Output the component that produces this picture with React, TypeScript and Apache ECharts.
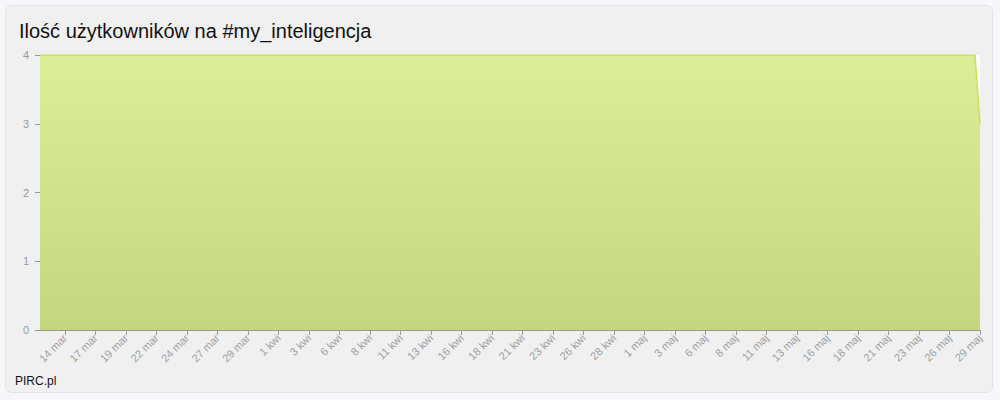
import React, { useEffect, useRef } from "react";
import * as echarts from "echarts";

const TITLE = "Ilość użytkowników na #my_inteligencja";
const CREDIT = "PIRC.pl";

// series: timestamps (UTC) and user counts
const pointTimes = ["2013-03-11T22:00:00Z", "2013-05-28T14:00:00Z", "2013-05-29T00:00:00Z"];
const pointValues = [4, 4, 3];

// x tick labels, evenly spaced from first to last tick date
const tickLabels = [
  "14 mar", "17 mar", "19 mar", "22 mar", "24 mar", "27 mar", "29 mar",
  "1 kwi", "3 kwi", "6 kwi", "8 kwi", "11 kwi", "13 kwi", "16 kwi", "18 kwi",
  "21 kwi", "23 kwi", "26 kwi", "28 kwi",
  "1 maj", "3 maj", "6 maj", "8 maj", "11 maj", "13 maj", "16 maj", "18 maj",
  "21 maj", "23 maj", "26 maj", "29 maj",
];
const firstTick = "2013-03-14T00:00:00Z";
const lastTick = "2013-05-29T00:00:00Z";

const yTicks = [0, 1, 2, 3, 4];

export default function App() {
  const ref = useRef<HTMLDivElement>(null);

  useEffect(() => {
    document.body.style.margin = "0";
    if (!ref.current) return;
    const chart = echarts.init(ref.current, undefined, { renderer: "svg" });

    const t0 = Date.parse(firstTick);
    const t1 = Date.parse(lastTick);
    const n = tickLabels.length - 1;
    const tickValues = tickLabels.map((_, i) => t0 + ((t1 - t0) * i) / n);
    const labelFor = (v: number) => {
      let best = 0;
      let bd = Infinity;
      tickValues.forEach((tv, i) => {
        const d = Math.abs(tv - v);
        if (d < bd) {
          bd = d;
          best = i;
        }
      });
      return tickLabels[best];
    };

    const data = pointTimes.map((t, i) => [Date.parse(t), pointValues[i]]);
    const font = "'Liberation Sans', Arial, sans-serif";

    chart.setOption({
      animation: false,
      backgroundColor: "#f7f7f9",
      textStyle: { fontFamily: font },
      title: {
        text: TITLE,
        left: 14,
        top: 16,
        textStyle: { fontSize: 20, fontWeight: "normal", color: "#111", fontFamily: font },
      },
      graphic: [
        {
          type: "rect",
          z: -10,
          shape: { x: 5.5, y: 5.5, width: 987, height: 387, r: 6 },
          style: { fill: "#f0f0f0", stroke: "#e2e2e8", lineWidth: 1 },
        },
        {
          type: "text",
          left: 15,
          top: 375,
          style: { text: CREDIT, fill: "#111", fontSize: 12, fontFamily: font },
        },
      ],
      grid: {
        left: 40,
        right: 20,
        top: 55,
        bottom: 70,
        show: true,
        backgroundColor: "#ffffff",
        borderWidth: 0,
      },
      xAxis: {
        type: "value",
        min: data[0][0],
        max: data[data.length - 1][0],
        splitLine: { show: false },
        axisLine: { show: true, lineStyle: { color: "#999999", width: 1 } },
        axisTick: {
          show: true,
          length: 5,
          customValues: tickValues,
          lineStyle: { color: "#999999" },
        },
        axisLabel: {
          customValues: tickValues,
          rotate: 45,
          margin: 6,
          color: "#a0a0a0",
          fontSize: 11,
          fontFamily: font,
          formatter: (v: number) => labelFor(v),
        },
      },
      yAxis: {
        type: "value",
        min: 0,
        max: 4,
        interval: 1,
        splitLine: { show: false },
        axisLine: { show: true, lineStyle: { color: "#b3c966", width: 1 } },
        axisTick: { show: true, length: 5, lineStyle: { color: "#999999" } },
        axisLabel: {
          margin: 11,
          color: "#999999",
          fontSize: 11,
          fontFamily: font,
          customValues: yTicks,
        },
      },
      series: [
        {
          type: "line",
          data,
          symbol: "none",
          lineStyle: { color: "#c6e05a", width: 1.5 },
          areaStyle: {
            opacity: 1,
            color: new echarts.graphic.LinearGradient(0, 0, 0, 1, [
              { offset: 0, color: "#ddee98" },
              { offset: 1, color: "#c4d67f" },
            ]),
          },
        },
      ],
    });

    return () => chart.dispose();
  }, []);

  return <div ref={ref} style={{ width: 1000, height: 400 }} />;
}
